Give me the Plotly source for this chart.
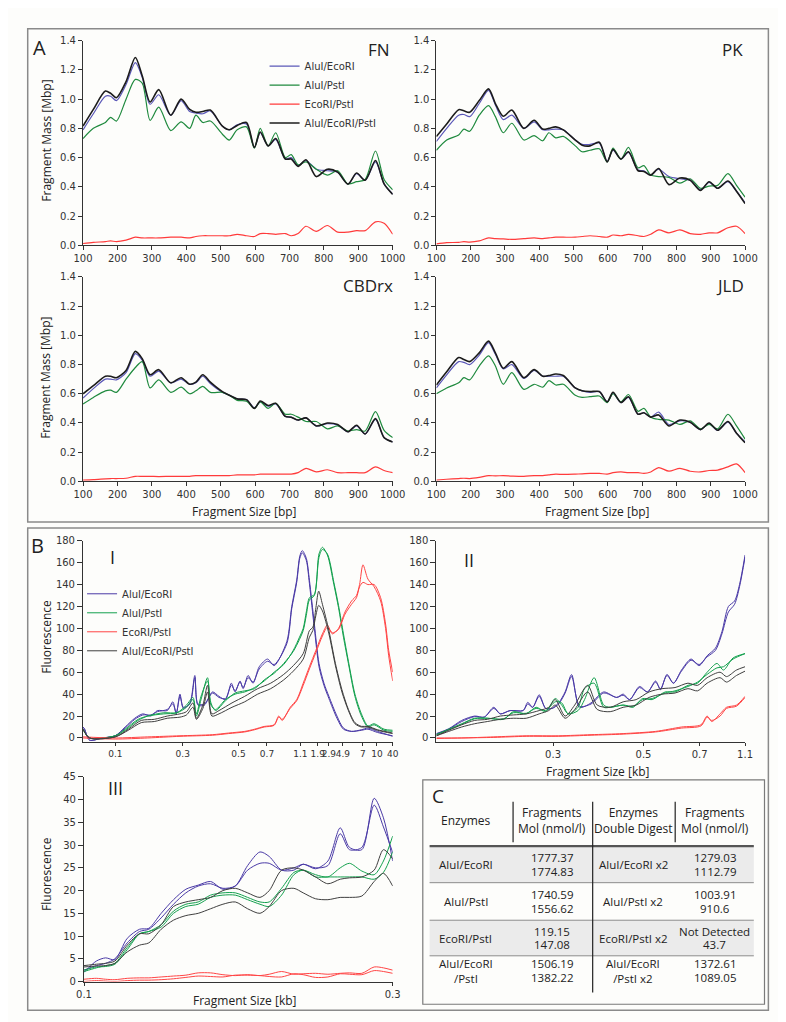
import plotly.graph_objects as go

# ---------------- Panel A data (fragment mass, Mbp) ----------------
BP = [100, 130, 165, 180, 197, 225, 252, 272, 295, 320, 355, 385, 410, 428, 448, 470, 505, 525, 548,
      575, 598, 615, 638, 660, 688, 705, 725, 748, 778, 810, 840, 870, 895, 920, 950, 975, 1000]

SERIES = ["AluI/EcoRI", "AluI/PstI", "EcoRI/PstI", "AluI/EcoRI/PstI"]

FN_ALUI_ECORI = [0.79, 0.9, 1.02, 1.02, 0.99, 1.1, 1.25, 1.15, 0.965, 1.03, 0.89, 0.99, 0.915, 0.905, 0.90, 0.92, 0.815, 0.79, 0.825,
                 0.83, 0.67, 0.77, 0.68, 0.725, 0.59, 0.6, 0.545, 0.58, 0.52, 0.51, 0.5, 0.42, 0.49, 0.445, 0.57, 0.42, 0.35]
FN_ALUI_PSTI = [0.73, 0.8, 0.84, 0.875, 0.85, 1.0, 1.135, 1.11, 0.855, 0.945, 0.785, 0.845, 0.80, 0.89, 0.84, 0.85, 0.76, 0.72, 0.79,
                0.81, 0.665, 0.80, 0.68, 0.77, 0.6, 0.62, 0.55, 0.57, 0.52, 0.48, 0.51, 0.42, 0.435, 0.45, 0.645, 0.45, 0.38]
FN_ECORI_PSTI = [0.012, 0.02, 0.025, 0.03, 0.025, 0.035, 0.055, 0.05, 0.05, 0.05, 0.055, 0.055, 0.05, 0.06, 0.065, 0.065, 0.065, 0.065, 0.075,
                 0.065, 0.06, 0.08, 0.08, 0.075, 0.08, 0.065, 0.08, 0.13, 0.095, 0.135, 0.09, 0.09, 0.1, 0.1, 0.16, 0.15, 0.075]
FN_TRIPLE = [0.816, 0.93, 1.055, 1.04, 1.01, 1.12, 1.285, 1.16, 0.98, 1.065, 0.89, 1.0, 0.93, 0.91, 0.915, 0.925, 0.815, 0.79, 0.82,
             0.84, 0.67, 0.775, 0.68, 0.73, 0.59, 0.59, 0.54, 0.585, 0.47, 0.52, 0.5, 0.418, 0.494, 0.445, 0.58, 0.42, 0.348]

PK_ALUI_ECORI = [0.71, 0.8, 0.89, 0.895, 0.88, 0.97, 1.06, 0.96, 0.86, 0.89, 0.80, 0.845, 0.79, 0.79, 0.795, 0.79, 0.72, 0.69, 0.69,
                 0.70, 0.575, 0.65, 0.59, 0.635, 0.515, 0.51, 0.48, 0.52, 0.47, 0.455, 0.445, 0.38, 0.43, 0.39, 0.435, 0.37, 0.29]
PK_ALUI_PSTI = [0.65, 0.72, 0.755, 0.795, 0.78, 0.89, 0.955, 0.88, 0.77, 0.835, 0.72, 0.75, 0.715, 0.77, 0.735, 0.745, 0.68, 0.64, 0.65,
                0.66, 0.57, 0.665, 0.59, 0.67, 0.53, 0.545, 0.48, 0.47, 0.465, 0.425, 0.455, 0.39, 0.405, 0.41, 0.49, 0.41, 0.33]
PK_ECORI_PSTI = [0.01, 0.018, 0.02, 0.025, 0.022, 0.03, 0.05, 0.045, 0.043, 0.04, 0.045, 0.05, 0.045, 0.05, 0.055, 0.055, 0.055, 0.06, 0.065,
                 0.06, 0.055, 0.07, 0.065, 0.075, 0.065, 0.06, 0.075, 0.105, 0.085, 0.105, 0.08, 0.075, 0.085, 0.085, 0.12, 0.13, 0.08]
PK_TRIPLE = [0.744, 0.83, 0.928, 0.92, 0.91, 0.99, 1.07, 0.97, 0.883, 0.925, 0.80, 0.855, 0.795, 0.80, 0.81, 0.79, 0.72, 0.685, 0.68,
             0.705, 0.57, 0.655, 0.59, 0.64, 0.51, 0.505, 0.48, 0.525, 0.415, 0.46, 0.445, 0.375, 0.435, 0.39, 0.44, 0.37, 0.285]

CB_ALUI_ECORI = [0.57, 0.635, 0.70, 0.70, 0.695, 0.745, 0.875, 0.83, 0.72, 0.755, 0.675, 0.70, 0.665, 0.675, 0.72, 0.67, 0.61, 0.59, 0.565,
                 0.56, 0.505, 0.545, 0.515, 0.53, 0.445, 0.44, 0.42, 0.435, 0.38, 0.395, 0.385, 0.34, 0.38, 0.325, 0.425, 0.30, 0.27]
CB_ALUI_PSTI = [0.53, 0.575, 0.62, 0.625, 0.61, 0.70, 0.78, 0.82, 0.64, 0.695, 0.61, 0.645, 0.60, 0.62, 0.65, 0.61, 0.61, 0.59, 0.555,
                0.55, 0.50, 0.545, 0.50, 0.535, 0.46, 0.46, 0.44, 0.41, 0.41, 0.36, 0.38, 0.345, 0.355, 0.345, 0.478, 0.35, 0.30]
CB_ECORI_PSTI = [0.01, 0.012, 0.018, 0.02, 0.02, 0.022, 0.035, 0.035, 0.035, 0.033, 0.035, 0.035, 0.035, 0.04, 0.04, 0.04, 0.04, 0.04, 0.045,
                 0.045, 0.045, 0.05, 0.05, 0.05, 0.05, 0.05, 0.06, 0.09, 0.065, 0.08, 0.06, 0.06, 0.06, 0.06, 0.1, 0.075, 0.06]
CB_TRIPLE = [0.60, 0.655, 0.72, 0.72, 0.71, 0.76, 0.89, 0.84, 0.73, 0.765, 0.675, 0.71, 0.665, 0.68, 0.73, 0.68, 0.615, 0.59, 0.565,
             0.56, 0.5, 0.55, 0.52, 0.535, 0.445, 0.44, 0.42, 0.435, 0.38, 0.40, 0.39, 0.34, 0.385, 0.325, 0.43, 0.30, 0.27]

JLD_ALUI_ECORI = [0.64, 0.73, 0.82, 0.815, 0.80, 0.865, 0.95, 0.87, 0.77, 0.80, 0.705, 0.76, 0.72, 0.72, 0.72, 0.72, 0.64, 0.62, 0.61,
                  0.615, 0.545, 0.605, 0.54, 0.575, 0.46, 0.47, 0.44, 0.475, 0.39, 0.415, 0.405, 0.355, 0.395, 0.35, 0.405, 0.33, 0.27]
JLD_ALUI_PSTI = [0.60, 0.64, 0.675, 0.71, 0.695, 0.79, 0.86, 0.79, 0.665, 0.745, 0.63, 0.665, 0.645, 0.69, 0.66, 0.665, 0.59, 0.575, 0.58,
                 0.585, 0.54, 0.60, 0.545, 0.595, 0.48, 0.50, 0.44, 0.425, 0.42, 0.39, 0.415, 0.36, 0.39, 0.36, 0.46, 0.38, 0.29]
JLD_ECORI_PSTI = [0.01, 0.015, 0.02, 0.022, 0.02, 0.028, 0.04, 0.038, 0.04, 0.037, 0.035, 0.04, 0.04, 0.045, 0.05, 0.048, 0.05, 0.052, 0.055,
                  0.055, 0.05, 0.06, 0.065, 0.06, 0.06, 0.055, 0.065, 0.095, 0.07, 0.09, 0.07, 0.065, 0.075, 0.078, 0.1, 0.12, 0.06]
JLD_TRIPLE = [0.66, 0.75, 0.848, 0.835, 0.82, 0.88, 0.96, 0.88, 0.775, 0.82, 0.71, 0.765, 0.72, 0.725, 0.735, 0.725, 0.64, 0.62, 0.615,
              0.615, 0.545, 0.61, 0.54, 0.58, 0.46, 0.47, 0.44, 0.455, 0.38, 0.42, 0.405, 0.355, 0.40, 0.35, 0.41, 0.33, 0.265]

A_PANELS = ["FN", "PK", "CBDrx", "JLD"]
A_X_TICKS = [100, 200, 300, 400, 500, 600, 700, 800, 900, 1000]
A_Y_TICKS = [0.0, 0.2, 0.4, 0.6, 0.8, 1.0, 1.2, 1.4]

# ---------------- Panel B data (fluorescence vs migration, 0-100 scale) ----------------
# B-I (full ladder range); two replicate traces per digest
I_PURPLE_X = [0, 0.5, 2.1, 6.3, 10.4, 13.6, 16.7, 19.3, 21.9, 24.0, 27.2, 29.0, 30.1, 31.3, 32.4, 34.5, 36.1, 37.1, 39.2, 41.8,
              43.9, 46.0, 47.9, 49.1, 50.7, 51.7, 53.3, 54.9, 56.9, 59.6, 61.7, 65.8, 67.4, 69.0, 70.0, 70.8, 72.1, 73.1,
              74.7, 76.2, 77.8, 79.4, 82.0, 84.1, 86.7, 89.9, 92.0, 95.1, 100]
I_PURPLE_1 = [10, 8, -2, 0, 2, 10, 18, 22, 20, 25, 25, 33, 22, 40, 27, 32, 57, 30, 30, 42, 38, 35, 50, 42, 52, 45, 57, 50,
              65, 72, 66, 88, 120, 144, 166, 171, 164, 144, 104, 68, 50, 38, 20, 9, 6, 7.5, 9, 6, 1.5]
I_PURPLE_2 = [10, 8, -2, 0, 2, 9, 17, 21, 21, 24, 26, 31, 23, 38, 28, 31, 55, 31, 31, 41, 37, 36, 48, 43, 51, 46, 55, 51,
              63, 70, 67, 86, 118, 142, 164, 169, 162, 141, 100, 65, 48, 36, 18, 8, 6, 7, 8, 5, 2]
I_GREEN_X = [0, 2.1, 10.4, 13.6, 17.8, 20.9, 26.1, 30.3, 33.4, 35.5, 36.6, 38.1, 40.2, 41.3, 42.8, 46.0, 49.1, 52.2, 55.4,
             58.5, 61.7, 64.8, 67.9, 69.9, 71.1, 72.1, 73.1, 74.7, 76.2, 77.3, 78.9, 81.0, 82.5, 84.1, 85.7, 87.8, 89.9,
             92.0, 94.0, 97.2, 100]
I_GREEN_1 = [8, 0, 2, 8, 17, 20, 22, 23, 30, 37, 20, 35, 55, 30, 26, 35, 40, 42, 46, 52, 60, 67, 80, 92, 100, 115, 128, 131,
             168, 174, 167, 140, 119, 92, 68, 38, 20, 10, 12, 7, 6]
I_GREEN_2 = [8, 0, 2, 7, 16, 20, 23, 23, 28, 35, 22, 38, 52, 32, 25, 34, 41, 43, 45, 53, 59, 68, 79, 90, 98, 112, 126, 130,
             165, 172, 168, 142, 121, 95, 70, 40, 22, 11, 13, 8, 7]
I_RED_X = [0, 10.4, 20.9, 31.3, 41.8, 47.0, 52.2, 55.4, 58.5, 61.7, 63.2, 64.3, 66.9, 69.0, 71.1, 73.1, 75.2, 77.3, 78.9,
           80.5, 82.5, 84.6, 86.7, 88.3, 89.3, 90.4, 92.0, 94.0, 96.1, 97.7, 98.7, 100]
I_RED_1 = [1, 0, 1, 2, 3, 4.5, 6, 8, 10.5, 12, 20, 16, 28, 35, 50, 65, 80, 95, 103, 95, 100, 115, 125, 130, 140, 158, 145,
           138, 125, 100, 75, 52]
I_RED_2 = [0, -1, 0, 1.5, 2.5, 4, 5.5, 7.5, 10, 11.5, 19, 17, 27, 34, 48, 63, 78, 93, 101, 96, 99, 113, 122, 128, 138, 142,
           140, 140, 128, 104, 80, 60]
I_BLACK_X = [0, 2.1, 10.4, 14.6, 18.8, 23.0, 27.2, 31.3, 33.4, 35.5, 36.6, 38.7, 40.2, 41.6, 43.9, 48.1, 52.2, 56.4, 60.6,
             64.8, 67.9, 71.1, 73.1, 74.2, 75.2, 76.1, 77.3, 79.4, 81.5, 83.6, 85.7, 87.8, 89.9, 92.0, 95.1, 100]
I_BLACK_1 = [8, 0, 1, 8, 16, 17, 20, 22, 24, 32, 18, 30, 48, 22, 25, 32, 38, 45, 50, 58, 66, 77, 98, 101, 119, 134, 122, 98,
             68, 44, 26, 14, 10.6, 10.6, 7.5, 4.5]
I_BLACK_2 = [8, 0, 1, 7, 14, 15, 18, 19, 21, 28, 17, 27, 42, 20, 22, 28, 33, 40, 45, 53, 61, 72, 92, 98, 112, 121, 116, 95,
             66, 42, 25, 13, 10, 10, 7, 4]
I_TICK_LABELS = ["0.1", "0.3", "0.5", "0.7", "1.1", "1.9", "2.9", "4.9", "7", "10", "40"]

# B-II (0.1 - 1.1 kb)
II_PURPLE_X = [0, 4.0, 8.2, 12.4, 15.5, 18.6, 20.7, 23.9, 28.1, 29.6, 31.2, 33.3, 35.4, 37.5, 39.6, 41.7, 43.8, 46.4, 50.1,
               54.2, 58.4, 60.5, 62.6, 65.8, 68.4, 71.0, 72.6, 74.7, 76.8, 79.4, 82.5, 85.1, 87.7, 90.4, 92.5, 94.6, 96.6, 98.2, 100]
II_PURPLE_1 = [4, 8.4, 16, 20, 19, 28, 22, 25, 25, 32.5, 28, 39.4, 27, 27, 32, 42, 57.8, 28, 32, 42, 37, 40, 35, 47, 42, 52,
               44, 58, 50, 62, 72, 66, 75, 82, 97, 120, 125, 140, 167]
II_PURPLE_2 = [3.5, 8, 15, 19.5, 19, 27, 22, 25, 25, 31, 28, 38, 27, 27, 31, 41, 56, 29, 31, 41, 37, 39, 35, 46, 42, 51, 45,
               57, 50, 61, 71, 67, 74, 80, 95, 115, 122, 138, 165]
II_GREEN_X = [0, 4.0, 8.2, 12.4, 16.5, 21.8, 24.9, 29.1, 32.3, 35.4, 38.5, 40.6, 42.7, 45.9, 48.0, 51.1, 54.2, 56.3, 60.5,
              63.7, 66.8, 69.9, 74.1, 77.3, 81.5, 84.6, 87.7, 90.9, 93.0, 96.1, 100]
II_GREEN_1 = [3, 8, 13, 18, 18, 17, 24, 22, 28, 24, 36, 30, 22, 25, 35, 55, 30, 28, 30, 28, 36, 35, 42, 42, 48, 50, 60, 68,
              62, 73, 77]
II_GREEN_2 = [3, 7.5, 12.5, 17.5, 18, 17.5, 23, 22.5, 27, 25, 33, 32, 22, 28, 45, 50, 28, 28, 30, 29, 35, 36, 41, 43, 47, 51,
              58, 64, 65, 72, 77]
II_RED_X = [0, 8.2, 18.6, 29.1, 39.6, 50.1, 60.5, 71.0, 79.4, 85.7, 87.7, 89.2, 91.9, 94.0, 97.2, 100]
II_RED_1 = [0, 0, 1, 2, 2, 3, 4, 6, 10, 12, 20, 15, 22, 28, 30, 38]
II_RED_2 = [-0.5, 0, 0.5, 1.5, 1.5, 2.5, 3.5, 5.5, 9, 11, 19, 16, 20, 27, 29, 37]
II_BLACK_X = [0, 4.0, 8.2, 12.4, 16.5, 20.7, 24.9, 29.1, 33.3, 36.4, 38.5, 41.7, 44.8, 49.0, 52.1, 56.3, 60.5, 64.7, 68.9,
              73.1, 77.3, 81.5, 84.6, 87.7, 91.9, 94.0, 97.2, 100]
II_BLACK_1 = [2, 7, 12, 16, 17, 20, 21, 22, 25, 28, 35, 20, 30, 48, 30, 28, 33, 35, 42, 45, 46, 50, 48, 55, 60, 56, 62, 65]
II_BLACK_2 = [2, 6, 10, 13, 15, 17, 18, 18, 22, 25, 30, 18, 26, 42, 26, 24, 28, 30, 37, 40, 41, 45, 43, 50, 55, 51, 57, 61]
II_TICK_LABELS = ["0.3", "0.5", "0.7", "1.1"]

# B-III (0.1 - 0.3 kb)
III_X = [0, 4, 7, 10, 14, 18, 21, 25, 29, 33, 37, 41, 45, 49, 53, 57, 60, 64, 68, 71, 75, 79, 83, 86, 90, 94, 97, 100]
III_PURPLE_1 = [2.0, 4.5, 5.2, 4.8, 9.5, 11.5, 11.7, 15.0, 18.0, 20.3, 21.2, 22.0, 20.3, 21.0, 25.5, 28.5, 27.5, 24.5, 24.5,
                25.8, 24.8, 26.5, 33.8, 29.5, 29.0, 40.3, 36.0, 26.5]
III_PURPLE_2 = [2.5, 3.5, 4.0, 5.0, 8.5, 11.0, 11.5, 14.0, 17.0, 19.5, 21.0, 21.5, 20.5, 21.0, 24.5, 26.0, 26.0, 24.5, 25.0,
                25.8, 25.0, 25.5, 32.5, 29.0, 29.5, 38.8, 34.0, 28.4]
III_GREEN_1 = [2.2, 3.0, 3.5, 4.0, 7.5, 10.5, 11.0, 12.5, 15.5, 17.0, 17.5, 19.0, 19.5, 19.5, 18.5, 17.5, 17.5, 20.5, 24.0,
               24.5, 23.5, 23.0, 25.0, 26.0, 24.3, 23.5, 26.5, 32.0]
III_GREEN_2 = [2.5, 3.2, 3.3, 3.8, 7.0, 10.5, 11.0, 12.0, 15.0, 16.5, 17.0, 18.5, 19.0, 19.0, 18.0, 17.0, 16.5, 19.0, 23.5,
               24.5, 23.0, 23.0, 23.0, 23.0, 23.0, 22.5, 24.0, 28.5]
III_RED_1 = [0.5, 0.7, 0.5, 0.4, 0.7, 0.8, 0.8, 1.0, 1.2, 1.4, 1.9, 1.9, 1.5, 1.3, 1.5, 1.3, 1.6, 2.2, 1.6, 1.7, 1.8, 1.6,
             1.8, 1.9, 1.8, 3.2, 3.0, 2.5]
III_RED_2 = [0.0, 0.2, 0.1, 0.0, 0.2, 0.3, 0.3, 0.4, 0.6, 0.9, 1.2, 1.1, 1.0, 1.4, 1.4, 1.3, 1.1, 1.0, 1.7, 1.5, 0.9, 1.0,
             1.7, 1.6, 1.5, 2.4, 2.2, 1.8]
III_BLACK_1 = [3.5, 3.8, 4.0, 4.5, 8.0, 10.5, 10.5, 12.5, 16.5, 17.5, 18.0, 18.5, 20.0, 20.5, 19.5, 18.5, 20.0, 24.5, 25.0,
               24.5, 23.0, 21.5, 22.5, 22.8, 23.0, 24.5, 29.0, 27.0]
III_BLACK_2 = [3.2, 3.4, 3.5, 4.0, 6.5, 8.0, 8.5, 11.5, 13.5, 14.5, 15.0, 16.0, 17.0, 17.5, 16.0, 15.0, 16.5, 20.0, 20.5,
               19.5, 18.2, 18.0, 18.5, 18.5, 18.8, 22.0, 23.8, 21.0]
III_TICK_LABELS = ["0.1", "0.3"]

# ---------------- Panel C table ----------------
TABLE_HEADERS = ["Enzymes", "Fragments<br>Mol (nmol/l)", "Enzymes<br>Double Digest", "Fragments<br>Mol (nmol/l)"]
ENZYMES = ["AluI/EcoRI", "AluI/PstI", "EcoRI/PstI", "AluI/EcoRI<br>/PstI"]
MOL_SINGLE = [["1777.37", "1774.83"], ["1740.59", "1556.62"], ["119.15", "147.08"], ["1506.19", "1382.22"]]
ENZYMES_DOUBLE = ["AluI/EcoRI x2", "AluI/PstI x2", "EcoRI/PstI x2", "AluI/EcoRI<br>/PstI x2"]
MOL_DOUBLE = [["1279.03", "1112.79"], ["1003.91", "910.6"], ["Not Detected", "43.7"], ["1372.61", "1089.05"]]

# ---------------- styling / layout helpers ----------------
W, H = 786, 1022
BG = "#fdfdfb"
A_COLORS = {"AluI/EcoRI": "#5b58b8", "AluI/PstI": "#1f8a3e", "EcoRI/PstI": "#ff3b3b", "AluI/EcoRI/PstI": "#1c1c1c"}
B_COLORS = {"AluI/EcoRI": "#4a3aa6", "AluI/PstI": "#14a04e", "EcoRI/PstI": "#ff4545", "AluI/EcoRI/PstI": "#3f3f3f"}
TICK_FONT = dict(family="DejaVu Sans", size=10, color="#333333")
TEXT_FONT = "Open Sans"


def px_x(v):
    return v / W


def px_y(v):
    return 1 - v / H


def xd(a, b):
    return [px_x(a), px_x(b)]


def yd(top, bottom):
    return [px_y(bottom), px_y(top)]


fig = go.Figure()

# ---- Panel A traces ----
a_data = {
    "FN": [FN_ALUI_ECORI, FN_ALUI_PSTI, FN_ECORI_PSTI, FN_TRIPLE],
    "PK": [PK_ALUI_ECORI, PK_ALUI_PSTI, PK_ECORI_PSTI, PK_TRIPLE],
    "CBDrx": [CB_ALUI_ECORI, CB_ALUI_PSTI, CB_ECORI_PSTI, CB_TRIPLE],
    "JLD": [JLD_ALUI_ECORI, JLD_ALUI_PSTI, JLD_ECORI_PSTI, JLD_TRIPLE],
}
for i, panel in enumerate(A_PANELS):
    ax = "" if i == 0 else str(i + 1)
    for name, ys in zip(SERIES, a_data[panel]):
        fig.add_trace(go.Scatter(
            x=BP, y=ys, mode="lines", name=name,
            line=dict(color=A_COLORS[name], width=1.6 if name == "AluI/EcoRI/PstI" else 1.2,
                      shape="spline", smoothing=0.8),
            xaxis="x" + ax, yaxis="y" + ax,
            legend="legend", legendgroup="A" + name, showlegend=(i == 0),
        ))

# ---- Panel B traces ----
b_sets = [
    ("5", [("AluI/EcoRI", I_PURPLE_X, I_PURPLE_1, I_PURPLE_2),
           ("AluI/PstI", I_GREEN_X, I_GREEN_1, I_GREEN_2),
           ("EcoRI/PstI", I_RED_X, I_RED_1, I_RED_2),
           ("AluI/EcoRI/PstI", I_BLACK_X, I_BLACK_1, I_BLACK_2)]),
    ("6", [("AluI/EcoRI", II_PURPLE_X, II_PURPLE_1, II_PURPLE_2),
           ("AluI/PstI", II_GREEN_X, II_GREEN_1, II_GREEN_2),
           ("EcoRI/PstI", II_RED_X, II_RED_1, II_RED_2),
           ("AluI/EcoRI/PstI", II_BLACK_X, II_BLACK_1, II_BLACK_2)]),
    ("7", [("AluI/EcoRI", III_X, III_PURPLE_1, III_PURPLE_2),
           ("AluI/PstI", III_X, III_GREEN_1, III_GREEN_2),
           ("EcoRI/PstI", III_X, III_RED_1, III_RED_2),
           ("AluI/EcoRI/PstI", III_X, III_BLACK_1, III_BLACK_2)]),
]
for ax, groups in b_sets:
    for name, xs, rep1, rep2 in groups:
        for k, ys in enumerate((rep1, rep2)):
            fig.add_trace(go.Scatter(
                x=xs, y=ys, mode="lines", name=name,
                line=dict(color=B_COLORS[name], width=1.0, shape="spline", smoothing=0.8),
                xaxis="x" + ax, yaxis="y" + ax,
                legend="legend2", legendgroup="B" + name,
                showlegend=(ax == "5" and k == 0),
            ))

# ---- axes ----
base_axis = dict(showline=True, linecolor="#333333", linewidth=1.1, ticks="outside", ticklen=4,
                 tickcolor="#333333", tickwidth=1, tickfont=TICK_FONT, showgrid=False, zeroline=False,
                 fixedrange=True, tickangle=0)

a_boxes = [((67, 386), (27, 234)), ((431, 749), (27, 234)), ((67, 386), (266, 473)), ((431, 749), (266, 473))]
layout_axes = {}
for i, ((xl, xr), (yt, yb)) in enumerate(a_boxes):
    sfx = "" if i == 0 else str(i + 1)
    layout_axes["xaxis" + sfx] = dict(base_axis, domain=xd(xl, xr), range=[100, 1000], tickvals=A_X_TICKS,
                                      anchor="y" + sfx)
    layout_axes["yaxis" + sfx] = dict(base_axis, domain=yd(yt, yb), range=[0, 1.4], tickvals=A_Y_TICKS,
                                      tickformat=".1f", anchor="x" + sfx)

layout_axes["xaxis5"] = dict(base_axis, domain=xd(67, 386), range=[0, 100],
                             tickvals=[10.45, 32.2, 50.2, 59.4, 70.2, 75.8, 79.4, 83.9, 90.4, 94.9, 100],
                             ticktext=I_TICK_LABELS, anchor="y5", ticklen=3,
                             tickfont=dict(TICK_FONT, size=9))
layout_axes["yaxis5"] = dict(base_axis, domain=yd(533, 737), range=[-4, 180], tickvals=list(range(0, 181, 20)),
                             anchor="x5", ticklen=5)
layout_axes["xaxis6"] = dict(base_axis, domain=xd(431, 749), range=[0, 100], tickvals=[37.8, 67.1, 85.3, 100],
                             ticktext=II_TICK_LABELS, anchor="y6", ticklen=3)
layout_axes["yaxis6"] = dict(base_axis, domain=yd(533, 737), range=[-4, 180], tickvals=list(range(0, 181, 20)),
                             anchor="x6", ticklen=5)
layout_axes["xaxis7"] = dict(base_axis, domain=xd(68, 386), range=[0, 100], tickvals=[0, 100],
                             ticktext=III_TICK_LABELS, anchor="y7", ticklen=3)
layout_axes["yaxis7"] = dict(base_axis, domain=yd(772, 979), range=[0, 45], tickvals=list(range(0, 46, 5)),
                             anchor="x7", ticklen=5)

# ---- shapes (frames and table rules) ----
shapes = []


def rect(x0, y0, x1, y1, color="#8a8a8a", width=1.5, fill=None):
    shapes.append(dict(type="rect", xref="paper", yref="paper", x0=px_x(x0), x1=px_x(x1), y0=px_y(y1), y1=px_y(y0),
                       line=dict(color=color, width=width), fillcolor=fill, layer="below"))


def hline(x0, x1, y, color="#8a8a8a", width=1.0):
    shapes.append(dict(type="line", xref="paper", yref="paper", x0=px_x(x0), x1=px_x(x1), y0=px_y(y), y1=px_y(y),
                       line=dict(color=color, width=width)))


def vline(x, y0, y1, color="#222222", width=1.2):
    shapes.append(dict(type="line", xref="paper", yref="paper", x0=px_x(x), x1=px_x(x), y0=px_y(y0), y1=px_y(y1),
                       line=dict(color=color, width=width)))


rect(10, 15, 773, 514)
rect(10, 520, 773, 1008)
rect(417, 775, 769, 1002, color="#7a7a7a", width=1.2)
row_edges = [842, 879, 917, 953, 990]
for r in range(4):
    if r % 2 == 0:
        shapes.append(dict(type="rect", xref="paper", yref="paper", x0=px_x(424), x1=px_x(758),
                           y0=px_y(row_edges[r + 1]), y1=px_y(row_edges[r]), line=dict(width=0),
                           fillcolor="#ebebeb", layer="below"))
hline(424, 758, 842, color="#555555", width=2.2)
for yv in row_edges[1:4]:
    hline(424, 758, yv, color="#8c8c8c", width=1.0)
vline(510, 797, 838)
vline(592, 797, 990)
vline(677, 797, 838)

# ---- annotations ----
ann = []


def text(x, y, s, size=12, family=TEXT_FONT, anchor="center", angle=0, color="#222222"):
    ann.append(dict(x=px_x(x), y=px_y(y), xref="paper", yref="paper", text=s, showarrow=False,
                    xanchor=anchor, yanchor="middle", textangle=angle,
                    font=dict(family=family, size=size, color=color)))


text(22, 34, "A", size=20)
text(20, 538, "B", size=20)
text(433, 791, "C", size=19)

text(385, 36, A_PANELS[0], size=17, anchor="right")
text(749, 36, A_PANELS[1], size=17, anchor="right")
text(388, 275, A_PANELS[2], size=17, anchor="right")
text(750, 275, A_PANELS[3], size=17, anchor="right")

text(29, 128, "Fragment Mass [Mbp]", size=12, angle=-90)
text(29, 368, "Fragment Mass [Mbp]", size=12, angle=-90)
text(233, 503, "Fragment Size [bp]", size=12)
text(597, 503, "Fragment Size [bp]", size=12)

text(97, 549, "I", size=18)
text(465, 552, "II", size=18)
text(100, 783, "III", size=18)
text(29, 630, "Fluorescence", size=12, angle=-90)
text(30, 870, "Fluorescence", size=12, angle=-90)
text(597, 767, "Fragment Size [kb]", size=12)
text(233, 998, "Fragment Size [kb]", size=12)

col_centers = [461, 550, 634, 718]
for c, h in zip(col_centers, TABLE_HEADERS):
    text(c, 816, h, size=12)
row_centers = [861, 898, 935, 968]
for r in range(4):
    yc = row_centers[r]
    text(col_centers[0], yc, ENZYMES[r], size=11.5)
    text(col_centers[2], yc, ENZYMES_DOUBLE[r], size=11.5)
    for k, dy in enumerate((-7, 7)):
        text(col_centers[1], yc + dy, MOL_SINGLE[r][k], size=11.5)
        text(col_centers[3], yc + dy, MOL_DOUBLE[r][k], size=11.5)

fig.update_layout(
    width=W, height=H, margin=dict(l=0, r=0, t=0, b=0),
    paper_bgcolor=BG, plot_bgcolor=BG,
    shapes=shapes, annotations=ann,
    legend=dict(x=px_x(254), y=px_y(38), xanchor="left", yanchor="top", bgcolor="rgba(0,0,0,0)",
                font=dict(family="DejaVu Sans", size=10, color="#333333"), itemwidth=30, tracegroupgap=0),
    legend2=dict(x=px_x(66), y=px_y(572), xanchor="left", yanchor="top", bgcolor="rgba(0,0,0,0)",
                 font=dict(family="DejaVu Sans", size=10, color="#333333"), itemwidth=30, tracegroupgap=0),
    **layout_axes,
)

fig.write_html("out.html")
